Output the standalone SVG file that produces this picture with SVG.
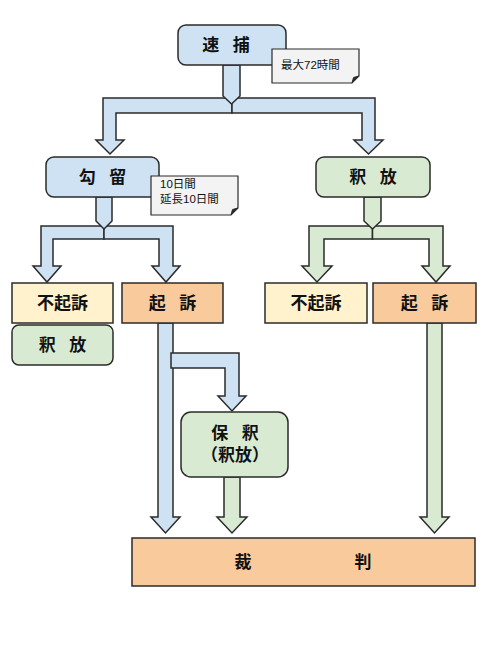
<svg xmlns="http://www.w3.org/2000/svg" width="484" height="669" viewBox="0 0 484 669">
<style>
.n{stroke:#2b2b2b;stroke-width:1.5}
.b{fill:#cfe2f3}
.g{fill:#d9ead3}
.y{fill:#fff2cc}
.o{fill:#f9cb9c}
.c{stroke:#2b2b2b;stroke-width:1.5;stroke-linejoin:miter}
.t{font-family:"Liberation Sans","Noto Sans CJK JP",sans-serif;font-weight:bold;font-size:17px;fill:#111;text-anchor:middle}
.sp{word-spacing:9px}
.nt{font-family:"Liberation Sans","Noto Sans CJK JP",sans-serif;font-size:11.5px;fill:#111}
.note{fill:#f3f3f3;stroke:#2b2b2b;stroke-width:1.2}
</style>
<rect width="484" height="669" fill="#ffffff"/>
<g id="connectors">
  <path class="c b" d="M232,98 H103 V140 H96 L110,154 L124,140 H116 V113 H232 Z"/>
  <path class="c b" d="M232,98 H375 V140 H383 L368.5,154 L354,140 H362 V113 H232 Z"/>
  <path class="c b" d="M223,65 H240 V96 L231.5,104 L223,96 Z"/>
  <path class="c b" d="M104,226 H41 V266 H33 L47,282 L61,266 H53 V239 H104 Z"/>
  <path class="c b" d="M104,226 H173 V266 H180 L166,282 L152,266 H159 V239 H104 Z"/>
  <path class="c b" d="M96,197 H112 V221 L104,229 L96,221 Z"/>
  <path class="c g" d="M372.5,226 H309 V266 H302 L317,282 L332,266 H324 V239 H372.5 Z"/>
  <path class="c g" d="M372.5,226 H443 V266 H450 L436,282 L422,266 H429 V239 H372.5 Z"/>
  <path class="c g" d="M364,197 H381 V221 L372.5,229 L364,221 Z"/>
  <path class="c b" d="M158,323 H173 V517 H180 L165.5,533 L151,517 H158 Z"/>
  <path class="c b" d="M171,353 H239 V396 H246 L232,411 L218,396 H225 V368 H171 Z"/>
  <path class="c g" d="M224,477 H240 V517 H247 L232,533 L217,517 H224 Z"/>
  <path class="c g" d="M427,323 H442 V517 H449 L434.5,533 L420,517 H427 Z"/>
</g>
<g id="node-taiho">
  <rect class="n b" x="178" y="25" width="108" height="40" rx="8"/>
  <text class="t sp" x="226" y="51">速 捕</text>
</g>
<g id="note-72h">
  <path class="note" d="M272,49 H359 V76 L352,83 H272 Z"/>
  <path d="M359,76 L352,83 L353.5,77.5 Z" fill="#2b2b2b" stroke="#2b2b2b" stroke-width="1"/>
  <text class="nt" x="281" y="69">最大72時間</text>
</g>
<g id="node-koryu">
  <rect class="n b" x="46" y="157" width="113" height="40" rx="8"/>
  <text class="t sp" x="102.5" y="183">勾 留</text>
</g>
<g id="note-10d">
  <path class="note" d="M151,176 H238 V208 L231,215 H151 Z"/>
  <path d="M238,208 L231,215 L232.5,209.5 Z" fill="#2b2b2b" stroke="#2b2b2b" stroke-width="1"/>
  <text class="nt" x="160" y="188">10日間</text>
  <text class="nt" x="160" y="203">延長10日間</text>
</g>
<g id="node-shakuho-top">
  <rect class="n g" x="316" y="157" width="114" height="40" rx="8"/>
  <text class="t sp" x="373" y="183">釈 放</text>
</g>
<g id="node-fukiso-left">
  <rect class="n y" x="12" y="283" width="101" height="40"/>
  <text class="t" x="62.5" y="309">不起訴</text>
</g>
<g id="node-shakuho-left">
  <rect class="n g" x="12" y="325" width="101" height="40" rx="7"/>
  <text class="t sp" x="62.5" y="351">釈 放</text>
</g>
<g id="node-kiso-left">
  <rect class="n o" x="122" y="283" width="101" height="40"/>
  <text class="t sp" x="172.5" y="309">起 訴</text>
</g>
<g id="node-fukiso-right">
  <rect class="n y" x="265" y="283" width="102" height="40"/>
  <text class="t" x="316" y="309">不起訴</text>
</g>
<g id="node-kiso-right">
  <rect class="n o" x="373" y="283" width="103" height="40"/>
  <text class="t sp" x="424.5" y="309">起 訴</text>
</g>
<g id="node-hoshaku">
  <rect class="n g" x="181" y="412" width="107" height="65" rx="10"/>
  <text class="t sp" x="235" y="439">保 釈</text>
  <text class="t" x="235" y="461">（釈放）</text>
</g>
<g id="node-saiban">
  <rect class="n o" x="132" y="538" width="343" height="48"/>
  <text class="t" y="568"><tspan x="243">裁</tspan><tspan x="363">判</tspan></text>
</g>
</svg>
